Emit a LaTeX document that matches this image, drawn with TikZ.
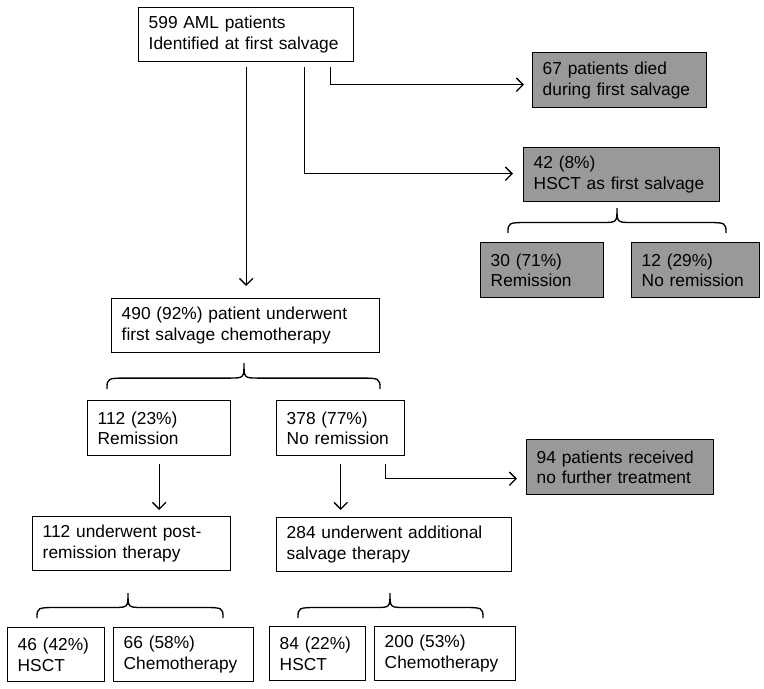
\documentclass[tikz,border=0pt]{standalone}
\usepackage{fontspec}
\setmainfont{Liberation Sans}
\usetikzlibrary{calc,arrows.meta}
\tikzset{>={Straight Barb[length=5pt,width=10pt]}}
\tikzset{flowbox/.style = {draw, line width=1.1pt, anchor=north west, align=left,
                           inner xsep=7.5pt, inner ysep=0pt,
                           font=\fontsize{13pt}{15.5pt}\selectfont}}
\tikzset{dead/.style = {flowbox, fill=black!40}}
\tikzset{boxsize/.code 2 args = {\pgfmathsetlengthmacro\boxtw{(#1-18)*0.75pt}%
                                 \tikzset{text width/.expanded=\boxtw, minimum height=#2*0.75pt}}}
\tikzset{link/.style = {line width=1pt}}
\newcommand{\groupbrace}[5]{% left, tip, right, tip y, end y
  \pgfmathsetmacro\bym{#4+0.58*(#5-#4)}
  \draw [link] (#1,#5) .. controls (#1,\bym) .. (#1+22,\bym) -- (#2-15,\bym)
     .. controls (#2,\bym) .. (#2,#4) .. controls (#2,\bym) .. (#2+15,\bym)
     -- (#3-22,\bym) .. controls (#3,\bym) .. (#3,#5);}

\begin{document}
\begin{tikzpicture}[x=0.75pt, y=-0.75pt]
    \useasboundingbox (0,0) rectangle (764,689);

    % first salvage
    \node [flowbox, boxsize={213}{54}] (top) at (138,7) {599 AML patients\\Identified at first salvage};
    \node [dead, boxsize={172}{55}] (died) at (532,52) {67 patients died\\during first salvage};
    \node [dead, boxsize={194}{54}] (hsct1) at (523,147) {42 (8\%)\\HSCT as first salvage};
    \node [dead, boxsize={121}{55}] (rem1) at (480,242) {30 (71\%)\\Remission};
    \node [dead, boxsize={126}{55}] (norem1) at (631,242) {12 (29\%)\\No remission};
    \node [flowbox, boxsize={266}{54}] (chemo1) at (111,298) {490 (92\%) patient underwent\\first salvage chemotherapy};

    \draw [link, ->] ($(top.south)+(0,5)$) -- ($(top.south |- chemo1.north)+(0,-12)$);
    \draw [link, ->] ($(top.south east)+(-24,5)$) |- ($(died.west)+(-8,4.5)$);
    \draw [link, ->] ($(top.south east)+(-50,5)$) |- ($(hsct1.west)+(-10,-1)$);
    \groupbrace{508}{617}{726}{208}{233}
    \groupbrace{107}{244}{380}{363}{389}

    % after first salvage chemotherapy
    \node [flowbox, boxsize={141}{55}] (rem2) at (87,400) {112 (23\%)\\Remission};
    \node [flowbox, boxsize={126}{55}] (norem2) at (276,400) {378 (77\%)\\No remission};
    \node [dead, boxsize={185}{55}] (nofurther) at (526,439) {94 patients received\\no further treatment};
    \node [flowbox, boxsize={196}{54}] (post) at (32,516) {112 underwent post-\\remission therapy};
    \node [flowbox, boxsize={233}{54}] (addl) at (276,517) {284 underwent additional\\salvage therapy};

    \draw [link, ->] ($(rem2.south)+(0,8)$) -- ($(rem2.south |- post.north)+(0,-6)$);
    \draw [link, ->] ($(norem2.south)+(0,8)$) -- ($(norem2.south |- addl.north)+(0,-7)$);
    \draw [link, ->] ($(norem2.south east)+(-20,8)$) |- ($(nofurther.west)+(-9,11.5)$);
    \groupbrace{37}{128}{223}{593}{618}
    \groupbrace{298}{390}{483}{593}{618}

    % final treatment
    \node [flowbox, boxsize={95}{54}] (hsct2) at (7,627) {46 (42\%)\\HSCT};
    \node [flowbox, boxsize={138}{54}] (chemo2) at (113,627) {66 (58\%)\\Chemotherapy};
    \node [flowbox, boxsize={94}{54}] (hsct3) at (269,626) {84 (22\%)\\HSCT};
    \node [flowbox, boxsize={139}{54}] (chemo3) at (374,626) {200 (53\%)\\Chemotherapy};
\end{tikzpicture}
\end{document}
